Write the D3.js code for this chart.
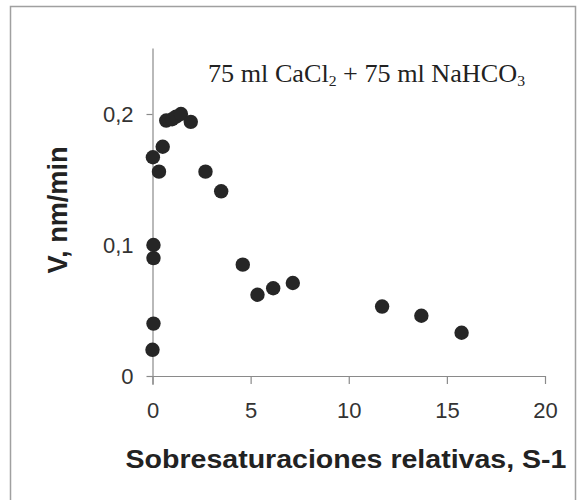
<!DOCTYPE html>
<html><head><meta charset="utf-8">
<script src="https://cdn.jsdelivr.net/npm/d3@7"></script>
<style>body{margin:0;background:#fff}svg{display:block}</style>
</head><body>
<svg id="c" width="581" height="500"></svg>
<script>
const xValues = [0, 0.05, 0.05, 0.05, 0.02, 0.33, 0.52, 0.7, 1.0, 1.2, 1.45, 1.95, 2.7, 3.5, 4.6, 5.35, 6.15, 7.15, 11.7, 13.7, 15.75];
const yValues = [0.02, 0.04, 0.09, 0.10, 0.167, 0.156, 0.175, 0.195, 0.196, 0.198, 0.200, 0.194, 0.156, 0.141, 0.085, 0.062, 0.067, 0.071, 0.053, 0.046, 0.033];
const xTicks = [0, 5, 10, 15, 20];
const yTicks = [0, 0.1, 0.2];
const yTickLabels = ["0", "0,1", "0,2"];
const xTitle = "Sobresaturaciones relativas, S-1";
const yTitle = "V, nm/min";

const svg = d3.select("#c");
const x = d3.scaleLinear().domain([0, 20]).range([152.5, 545]);
const y = d3.scaleLinear().domain([0, 0.25]).range([376, 48.5]);

// outer frame
svg.append("path").attr("d", "M10.5,505 V6.5 H575.5 V505")
  .attr("fill", "none").attr("stroke", "#a0a0a0").attr("stroke-width", 1.5);

const axisColor = "#8a8a8a";
// x axis
const gx = svg.append("g").attr("transform", `translate(0,${y(0)})`)
  .call(d3.axisBottom(x).tickValues(xTicks).tickSize(8).tickPadding(18).tickSizeOuter(0));
gx.select(".domain").attr("d", `M147,0.5H${x(20)}`);
// y axis
const gy = svg.append("g").attr("transform", `translate(${x(0)},0)`)
  .call(d3.axisLeft(y).tickValues(yTicks).tickFormat((d,i)=>yTickLabels[i]).tickSize(6).tickPadding(13).tickSizeOuter(0));
gy.select(".domain").attr("d", `M0.5,${y(0.25)}V385`);

svg.selectAll(".domain").attr("stroke", axisColor).attr("stroke-width", 1.2);
svg.selectAll(".tick line").attr("stroke", axisColor).attr("stroke-width", 1.2);
svg.selectAll(".tick text").attr("fill", "#333").attr("font-family", "Liberation Sans, Arial, sans-serif").attr("font-size", 22);
gx.selectAll(".tick text").attr("dy", "0.71em");

// points
svg.append("g").selectAll("circle").data(xValues).join("circle")
  .attr("cx", (d,i)=>x(d)).attr("cy", (d,i)=>y(yValues[i]))
  .attr("r", 7.2).attr("fill", "#262626");

// titles
svg.append("text").attr("x", 346).attr("y", 468).attr("text-anchor", "middle")
  .attr("font-family", "Liberation Sans, Arial, sans-serif").attr("font-weight", "bold")
  .attr("font-size", 25).attr("fill", "#222")
  .attr("textLength", 441).attr("lengthAdjust", "spacingAndGlyphs").text(xTitle);

svg.append("text").attr("transform", "translate(67,210) rotate(-90)").attr("text-anchor", "middle")
  .attr("font-family", "Liberation Sans, Arial, sans-serif").attr("font-weight", "bold")
  .attr("font-size", 28).attr("fill", "#222")
  .attr("textLength", 127).attr("lengthAdjust", "spacingAndGlyphs").text(yTitle);

// annotation
const ann = svg.append("text").attr("x", 208).attr("y", 82)
  .attr("font-family", "Liberation Serif, Times New Roman, serif")
  .attr("font-size", 25).attr("fill", "#222")
  .attr("textLength", 317).attr("lengthAdjust", "spacingAndGlyphs");
ann.append("tspan").text("75 ml CaCl");
ann.append("tspan").attr("font-size", 15).attr("dy", 4).text("2");
ann.append("tspan").attr("dy", -4).text(" + 75 ml NaHCO");
ann.append("tspan").attr("font-size", 15).attr("dy", 4).text("3");
</script>
</body></html>
